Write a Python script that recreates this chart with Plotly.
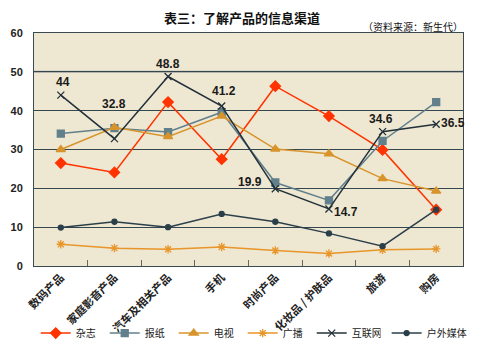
import plotly.graph_objects as go

categories = ["数码产品", "家庭影音产品", "汽车及相关产品", "手机", "时尚产品", "化妆品 / 护肤品", "旅游", "购房"]
magazine = [26.5, 24.1, 42.2, 27.5, 46.3, 38.6, 29.9, 14.5]
newspaper = [34.1, 35.5, 34.5, 39.6, 21.5, 16.9, 32.2, 42.2]
tv = [30.0, 35.7, 33.3, 38.6, 30.1, 28.9, 22.5, 19.3]
radio = [5.6, 4.6, 4.3, 4.9, 4.0, 3.2, 4.2, 4.4]
internet = [44, 32.8, 48.8, 41.2, 19.9, 14.7, 34.6, 36.5]
outdoor = [9.9, 11.4, 10.0, 13.4, 11.4, 8.4, 5.1, 14.5]
internet_labels = ["44", "32.8", "48.8", "41.2", "19.9", "14.7", "34.6", "36.5"]
y_ticks = [0, 10, 20, 30, 40, 50, 60]

fig = go.Figure()
series = [
    ("杂志", magazine, "#FF3300", "diamond", 8, "legend"),
    ("报纸", newspaper, "#62808C", "square", 7, "legend"),
    ("电视", tv, "#D8942C", "triangle-up", 8, "legend"),
    ("广播", radio, "#E8962A", "asterisk-open", 7, "legend"),
    ("互联网", internet, "#22313A", "x-thin-open", 7, "legend"),
    ("户外媒体", outdoor, "#2A3F4A", "circle", 5, "legend2"),
]
for name, vals, color, sym, size, lg in series:
    fig.add_trace(go.Scatter(
        x=categories, y=vals, name=name, mode="lines+markers", legend=lg,
        line=dict(color=color, width=1.5),
        marker=dict(symbol=sym, size=size, color=color,
                    line=dict(color=color, width=1.3)),
    ))

# value labels for 互联网
offsets = [(2, -13), (0, -35), (0, -12), (2, -15), (-25, -7), (17, 3), (-2, -13), (17, -1)]
for c, v, t, (ax, ay) in zip(categories, internet, internet_labels, offsets):
    fig.add_annotation(x=c, y=v, text="<b>" + t + "</b>", showarrow=False,
                       xshift=ax, yshift=-ay,
                       font=dict(size=12, color="#1a1a1a", family="Liberation Sans, Arial"))

fig.add_shape(type="line", xref="paper", x0=0, x1=1, yref="y", y0=50, y1=50,
              line=dict(color="#a0a0a0", width=2), layer="between")

fig.add_annotation(text="<b>表三：了解产品的信息渠道</b>", xref="paper", yref="paper",
                   x=0.485, y=1.0, yanchor="middle", yshift=16, showarrow=False,
                   font=dict(size=13, color="#111", family="Noto Sans CJK SC"))
fig.add_annotation(text="（资料来源：新生代）", xref="paper", yref="paper",
                   x=1.0, y=1.0, xanchor="right", yanchor="middle", yshift=7, xshift=2,
                   showarrow=False,
                   font=dict(size=10, color="#111", family="Noto Sans CJK SC"))

legend_font = dict(size=10, color="#222", family="Noto Sans CJK SC")

# margins compensate for the page's default 8px body margin
fig.update_layout(
    width=486, height=355,
    margin=dict(l=26, r=31, t=25, b=97, autoexpand=False),
    paper_bgcolor="white",
    plot_bgcolor="#EEE7D1",
    showlegend=True,
    legend=dict(orientation="h", x=0.004, xanchor="left", y=-0.288, yanchor="middle",
                font=legend_font, entrywidth=24, entrywidthmode="pixels",
                itemwidth=30, tracegroupgap=0, bgcolor="rgba(0,0,0,0)"),
    legend2=dict(orientation="h", x=0.822, xanchor="left", y=-0.288, yanchor="middle",
                 font=legend_font, itemwidth=30, tracegroupgap=0,
                 bgcolor="rgba(0,0,0,0)"),
    xaxis=dict(
        type="category", tickangle=-45, tickson="boundaries", automargin=False,
        ticks="inside", ticklen=6, tickcolor="#666",
        showgrid=False, showline=True, linecolor="#3a4a50", linewidth=1, mirror=True,
        tickfont=dict(size=11, color="#222", family="Noto Sans CJK SC", weight="bold"),
        range=[-0.5, 7.5],
    ),
    yaxis=dict(
        range=[0, 60], tickvals=y_ticks, showgrid=True, gridcolor="#34464e", gridwidth=1,
        zeroline=False, showline=True, linecolor="#3a4a50", mirror=True,
        automargin=False,
        ticks="", tickfont=dict(size=11, color="#222", family="Liberation Sans, Arial", weight="bold"),
        ticklabelstandoff=8,
    ),
)

fig.write_html("out.html")
